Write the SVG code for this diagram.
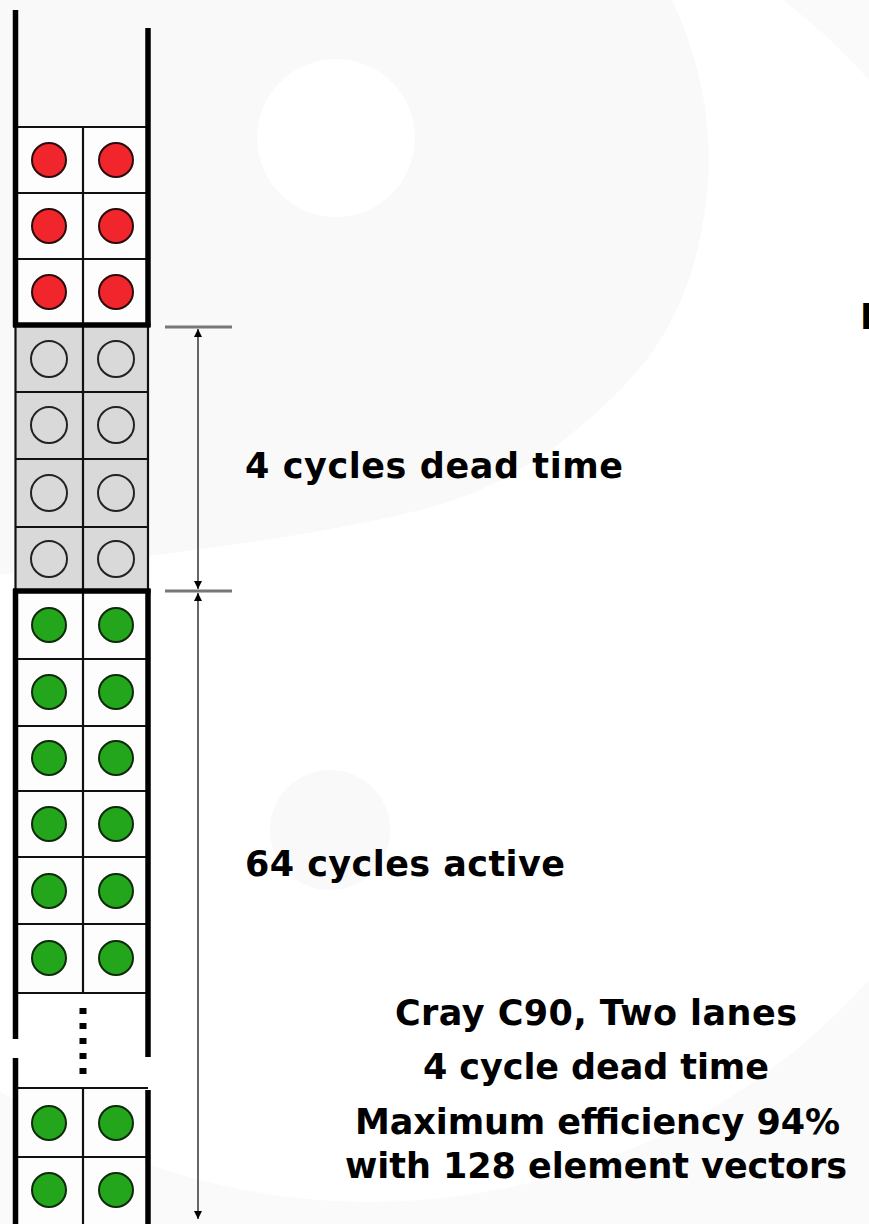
<svg xmlns="http://www.w3.org/2000/svg" width="869" height="1224" viewBox="0 0 869 1224">
  <defs>
    <style>
      .thick { stroke: #000; stroke-width: 5.5; fill: none; stroke-linecap: butt; }
      .thin { stroke: #111; stroke-width: 2.2; fill: none; }
      .cell { fill: #fdfdfd; }
      .dead { fill: #d9d9d9; }
      .red { fill: #f0262c; stroke: #2a0a0a; stroke-width: 2; }
      .green { fill: #23a61b; stroke: #0d2a0a; stroke-width: 2; }
      .empty { fill: none; stroke: #222; stroke-width: 2; }
      .dim { stroke: #666; stroke-width: 2; fill: none; }
      .tick { stroke: #777; stroke-width: 3; fill: none; }
      .lbl { font-family: "DejaVu Sans", "Liberation Sans", sans-serif; font-weight: bold; font-size: 35px; fill: #000; }
    </style>
    <marker id="ah" viewBox="0 0 10 10" refX="10" refY="5" markerWidth="8" markerHeight="9" markerUnits="userSpaceOnUse" orient="auto-start-reverse">
      <path d="M0,0 L10,5 L0,10 z" fill="#000"/>
    </marker>
  </defs>

  <!-- faint watermark background -->
  <g id="watermark">
    <rect x="0" y="0" width="869" height="1224" fill="#fafafa"/>
    <circle cx="370" cy="530" r="672" fill="#ffffff"/>
    <path d="M0,0 L672,0 C700,60 712,120 708,180 C700,290 660,350 620,390 C560,450 500,490 420,510 C300,540 150,555 0,575 Z" fill="#f9f9f9"/>
    <circle cx="336" cy="138" r="79" fill="#ffffff"/>
    <circle cx="330" cy="830" r="60" fill="#f9f9f9"/>
  </g>

  <!-- red block -->
  <g id="red-block">
    <rect class="cell" x="15" y="127" width="133" height="198"/>
    <line class="thin" x1="15" y1="127" x2="148" y2="127"/>
    <line class="thin" x1="15" y1="193" x2="148" y2="193"/>
    <line class="thin" x1="15" y1="259" x2="148" y2="259"/>
    <line class="thin" x1="83" y1="127" x2="83" y2="325"/>
    <circle class="red" cx="49" cy="160" r="17"/><circle class="red" cx="116" cy="160" r="17"/>
    <circle class="red" cx="49" cy="226" r="17"/><circle class="red" cx="116" cy="226" r="17"/>
    <circle class="red" cx="49" cy="292" r="17"/><circle class="red" cx="116" cy="292" r="17"/>
  </g>

  <!-- dead time block -->
  <g id="dead-block">
    <rect class="dead" x="15" y="325" width="133" height="266"/>
    <line class="thin" x1="15" y1="392" x2="148" y2="392"/>
    <line class="thin" x1="15" y1="459" x2="148" y2="459"/>
    <line class="thin" x1="15" y1="527" x2="148" y2="527"/>
    <line class="thin" x1="83" y1="325" x2="83" y2="591"/>
    <line class="thin" x1="15.5" y1="325" x2="15.5" y2="591"/>
    <line class="thin" x1="148" y1="325" x2="148" y2="591"/>
    <circle class="empty" cx="49" cy="359" r="18"/><circle class="empty" cx="116" cy="359" r="18"/>
    <circle class="empty" cx="49" cy="425" r="18"/><circle class="empty" cx="116" cy="425" r="18"/>
    <circle class="empty" cx="49" cy="493" r="18"/><circle class="empty" cx="116" cy="493" r="18"/>
    <circle class="empty" cx="49" cy="559" r="18"/><circle class="empty" cx="116" cy="559" r="18"/>
  </g>

  <!-- active block -->
  <g id="active-block">
    <rect class="cell" x="15" y="591" width="133" height="402"/>
    <line class="thin" x1="15" y1="659" x2="148" y2="659"/>
    <line class="thin" x1="15" y1="726" x2="148" y2="726"/>
    <line class="thin" x1="15" y1="791" x2="148" y2="791"/>
    <line class="thin" x1="15" y1="857" x2="148" y2="857"/>
    <line class="thin" x1="15" y1="924" x2="148" y2="924"/>
    <line class="thin" x1="15" y1="993" x2="148" y2="993"/>
    <line class="thin" x1="83" y1="591" x2="83" y2="993"/>
    <circle class="green" cx="49" cy="625" r="17"/><circle class="green" cx="116" cy="625" r="17"/>
    <circle class="green" cx="49" cy="692" r="17"/><circle class="green" cx="116" cy="692" r="17"/>
    <circle class="green" cx="49" cy="758" r="17"/><circle class="green" cx="116" cy="758" r="17"/>
    <circle class="green" cx="49" cy="824" r="17"/><circle class="green" cx="116" cy="824" r="17"/>
    <circle class="green" cx="49" cy="891" r="17"/><circle class="green" cx="116" cy="891" r="17"/>
    <circle class="green" cx="49" cy="958" r="17"/><circle class="green" cx="116" cy="958" r="17"/>
  </g>

  <!-- ellipsis -->
  <g id="ellipsis">
    <line x1="83" y1="1008" x2="83" y2="1075" stroke="#000" stroke-width="7" stroke-dasharray="6 9"/>
  </g>

  <!-- bottom block -->
  <g id="last-block">
    <rect class="cell" x="15" y="1088" width="133" height="136"/>
    <line class="thin" x1="15" y1="1088" x2="148" y2="1088"/>
    <line class="thin" x1="15" y1="1157" x2="148" y2="1157"/>
    <line class="thin" x1="83" y1="1088" x2="83" y2="1224"/>
    <circle class="green" cx="49" cy="1123" r="17"/><circle class="green" cx="116" cy="1123" r="17"/>
    <circle class="green" cx="49" cy="1190" r="17"/><circle class="green" cx="116" cy="1190" r="17"/>
  </g>

  <!-- pipe walls -->
  <g id="walls">
    <line class="thick" x1="15.5" y1="10" x2="15.5" y2="327"/>
    <line class="thick" x1="148" y1="28" x2="148" y2="327"/>
    <line class="thick" x1="13" y1="325" x2="150.5" y2="325"/>
    <line class="thick" x1="13" y1="591" x2="150.5" y2="591"/>
    <line class="thick" x1="15.5" y1="589" x2="15.5" y2="1039"/>
    <line class="thick" x1="148" y1="589" x2="148" y2="1057"/>
    <line class="thick" x1="15.5" y1="1058" x2="15.5" y2="1224"/>
    <line class="thick" x1="148" y1="1090" x2="148" y2="1224"/>
  </g>

  <!-- dimension connectors -->
  <g id="connectors">
    <line class="tick" x1="165" y1="327" x2="232" y2="327"/>
    <line class="tick" x1="165" y1="591" x2="232" y2="591"/>
    <line class="dim" x1="198" y1="329" x2="198" y2="589" marker-start="url(#ah)" marker-end="url(#ah)"/>
    <line class="dim" x1="198" y1="593" x2="198" y2="1219" marker-start="url(#ah)" marker-end="url(#ah)"/>
  </g>

  <!-- labels -->
  <g id="labels">
    <text class="lbl" x="245" y="478" textLength="378" lengthAdjust="spacing">4 cycles dead time</text>
    <text class="lbl" x="245" y="876" textLength="320" lengthAdjust="spacing">64 cycles active</text>
    <text class="lbl" x="395" y="1025" textLength="402" lengthAdjust="spacing">Cray C90, Two lanes</text>
    <text class="lbl" x="423" y="1079" textLength="346" lengthAdjust="spacing">4 cycle dead time</text>
    <text class="lbl" x="355" y="1134" textLength="485" lengthAdjust="spacing">Maximum efficiency 94%</text>
    <text class="lbl" x="345" y="1178" textLength="502" lengthAdjust="spacing">with 128 element vectors</text>
    <text class="lbl" x="860" y="329">N</text>
  </g>
</svg>
